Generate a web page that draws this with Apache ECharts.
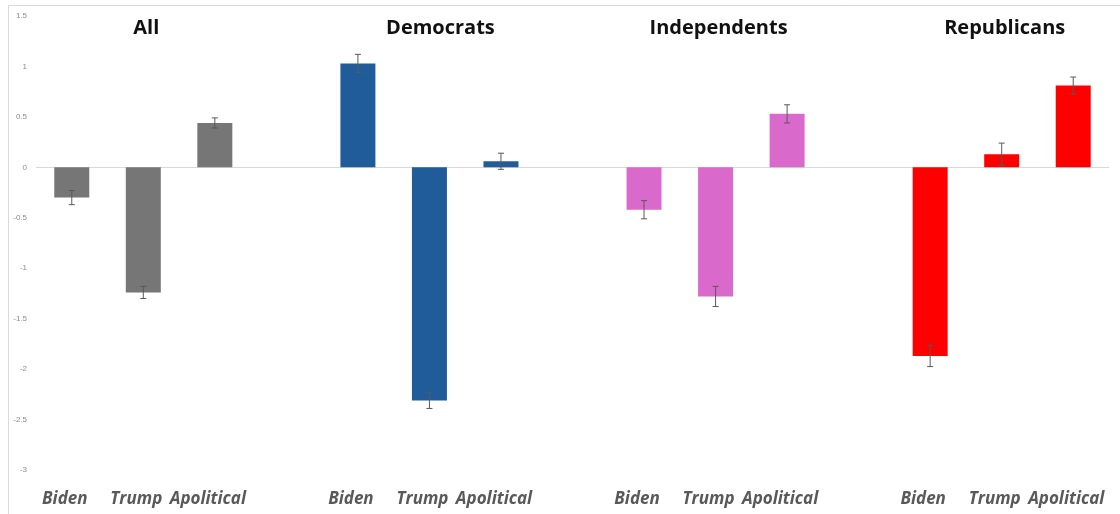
<!DOCTYPE html>
<html>
<head>
<meta charset="utf-8">
<script src="https://cdn.jsdelivr.net/npm/echarts@6/dist/echarts.min.js"></script>
<style>
html,body{margin:0;padding:0;background:#fff;}
#chart{width:1120px;height:514px;}
</style>
</head>
<body>
<div id="chart"></div>
<script>
// ---- data ----
const groups = ['All', 'Democrats', 'Independents', 'Republicans'];
const candidates = ['Biden', 'Trump', 'Apolitical'];
const valuesAll = [-0.30, -1.24, 0.44];
const valuesDemocrats = [1.03, -2.31, 0.06];
const valuesIndependents = [-0.42, -1.28, 0.53];
const valuesRepublicans = [-1.87, 0.13, 0.81];
const errorsAll = [0.07, 0.06, 0.05];
const errorsDemocrats = [0.09, 0.08, 0.08];
const errorsIndependents = [0.09, 0.10, 0.09];
const errorsRepublicans = [0.105, 0.11, 0.085];
const groupColors = ['#767676', '#1F5C99', '#D96ACC', '#FF0000'];
const yTicks = [1.5, 1, 0.5, 0, -0.5, -1, -1.5, -2, -2.5, -3];

// ---- build category slots (blank slot between groups) ----
const groupValues = [valuesAll, valuesDemocrats, valuesIndependents, valuesRepublicans];
const groupErrors = [errorsAll, errorsDemocrats, errorsIndependents, errorsRepublicans];
const cats = [], topLabels = [], barData = [], errData = [];
groups.forEach((g, gi) => {
  if (gi > 0) { cats.push(''); topLabels.push(''); barData.push(null); errData.push(null); }
  candidates.forEach((c, ci) => {
    cats.push(c);
    topLabels.push(ci === 1 ? g : '');
    const v = groupValues[gi][ci];
    barData.push({ value: v, itemStyle: { color: groupColors[gi] } });
    errData.push([cats.length - 1, v - groupErrors[gi][ci], v + groupErrors[gi][ci]]);
  });
});

const chart = echarts.init(document.getElementById('chart'));
chart.setOption({
  animation: false,
  backgroundColor: '#ffffff',
  graphic: [{
    type: 'rect', silent: true, z: -10,
    shape: { x: 8.5, y: 5.5, width: 1200, height: 600 },
    style: { fill: 'none', stroke: '#d9d9d9', lineWidth: 1 }
  }],
  grid: { left: 36, right: 11, top: 16, bottom: 44, containLabel: false },
  xAxis: [{
    type: 'category', data: cats, position: 'bottom',
    axisLine: { show: false }, axisTick: { show: false },
    axisLabel: {
      interval: 0, margin: 21,
      fontFamily: 'Open Sans', fontSize: 17, fontWeight: 'bold', fontStyle: 'italic',
      color: '#595959', padding: [0, 14, 0, 0]
    }
  }, {
    type: 'category', data: topLabels, position: 'top',
    axisLine: { show: false }, axisTick: { show: false },
    axisLabel: {
      interval: 0, inside: true, margin: 2, verticalAlign: 'top',
      fontFamily: 'Open Sans', fontSize: 20, fontWeight: 'bold',
      color: '#111111',
      formatter: v => (v === 'Democrats' ? '{d|' + v + '}' : v ? '{n|' + v + '}' : ''),
      rich: {
        n: { fontFamily: 'Open Sans', fontSize: 20, fontWeight: 'bold', color: '#111111', padding: [0, 0, 0, 6] },
        d: { fontFamily: 'Open Sans', fontSize: 20, fontWeight: 'bold', color: '#111111', padding: [0, 0, 0, 22] }
      }
    }
  }],
  yAxis: {
    type: 'value', min: -3, max: 1.5, interval: 0.5,
    axisLine: { show: false }, axisTick: { show: false },
    splitLine: { show: false },
    axisLabel: {
      fontFamily: 'Liberation Sans', fontSize: 8, color: '#8c8c8c', margin: 9,
      formatter: v => (yTicks.indexOf(v) >= 0 ? String(v) : '')
    }
  },
  series: [{
    type: 'bar', data: barData, barWidth: 35,
    markLine: {
      silent: true, symbol: 'none', label: { show: false },
      lineStyle: { color: '#d9d9d9', width: 1, type: 'solid' },
      data: [{ yAxis: 0 }], z: 1
    }
  }, {
    type: 'custom', z: 5,
    data: errData.filter(d => d),
    renderItem: function (params, api) {
      const x = api.value(0);
      const lo = api.coord([x, api.value(1)]);
      const hi = api.coord([x, api.value(2)]);
      const cap = 3;
      const st = { stroke: '#595959', lineWidth: 1 };
      return {
        type: 'group',
        children: [
          { type: 'line', shape: { x1: lo[0], y1: lo[1], x2: hi[0], y2: hi[1] }, style: st },
          { type: 'line', shape: { x1: lo[0] - cap, y1: lo[1], x2: lo[0] + cap, y2: lo[1] }, style: st },
          { type: 'line', shape: { x1: hi[0] - cap, y1: hi[1], x2: hi[0] + cap, y2: hi[1] }, style: st }
        ]
      };
    }
  }]
});
</script>
</body>
</html>
